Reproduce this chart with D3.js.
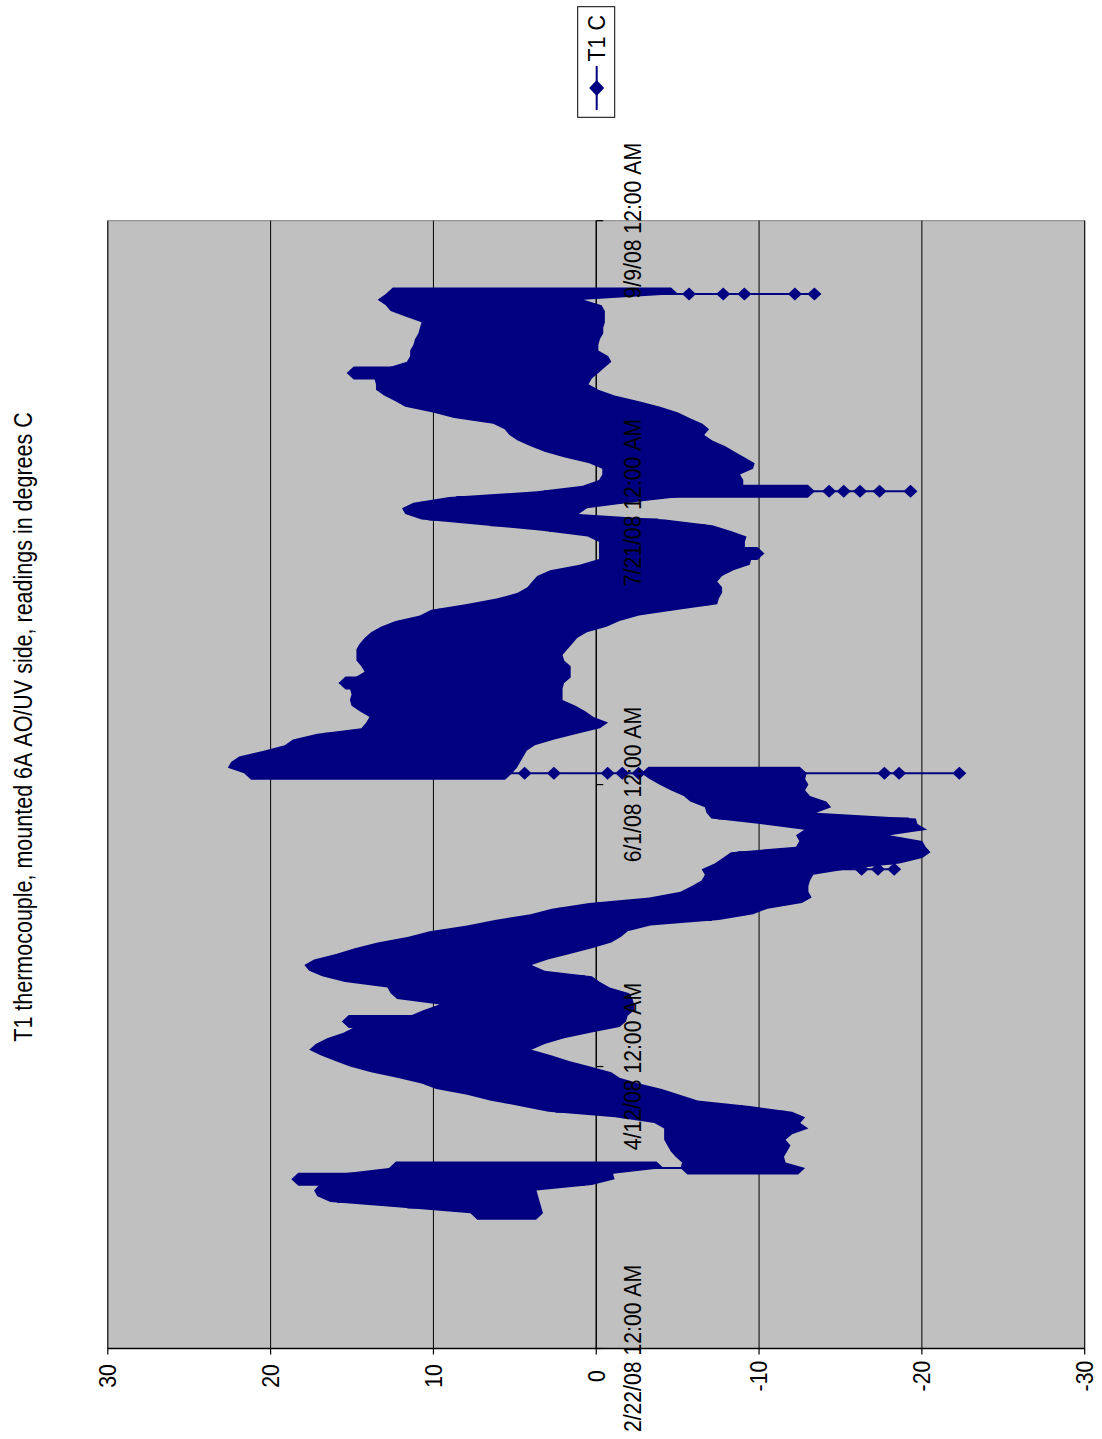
<!DOCTYPE html>
<html>
<head>
<meta charset="utf-8">
<script src="https://cdn.jsdelivr.net/npm/d3@7"></script>
<style>
  html, body { margin: 0; padding: 0; background: #fff; }
  svg { display: block; }
  text { font-family: "Liberation Sans", Arial, sans-serif; fill: #000; font-kerning: none; }
</style>
</head>
<body>
<svg id="chart" width="1102" height="1439"></svg>
<script>
// ---- data: daily high / low of the T1 thermocouple (deg C), one entry per day from firstDay ----
const firstDay = "2008-03-17";
const dailyHigh = [
  7.3, 11.6, 15.9, 16.7, 16.9, 16.6, 18.3, 15.3, 12.3, -5.7,
  -5.3, -5.0, -4.8, -4.6, -4.6, -4.6, -4.0, -1.6, 2.5, 4.3,
  6.1, 7.5, 9.4, 10.3, 11.8, 13.4, 14.7, 15.6, 16.5, 17.2,
  16.8, 16.1, 15.1, 14.4, 15.2, 11.0, 10.2, 9.2, 11.8, 12.2,
  12.4, 15.0, 16.4, 17.2, 17.5, 16.9, 15.5, 14.4, 13.0, 11.1,
  9.8, 7.5, 5.8, 3.6, 2.3, 0.0, -3.7, -5.6, -6.3, -6.9,
  -7.1, -6.9, -7.7, -8.2, -8.7, -12.7, -12.9, -12.7, -13.2, -10.5,
  -7.5, -7.2, -7.1, -6.2, -5.8, -5.0, -4.3, -3.7, 21.2, 22.2,
  22.0, 21.5, 20.0, 18.7, 18.2, 16.7, 14.0, 13.7, 13.5, 14.1,
  14.6, 14.7, 14.6, 14.7, 15.4, 14.4, 13.8, 14.0, 14.3, 14.3,
  14.3, 14.1, 13.8, 13.4, 12.8, 11.9, 10.4, 9.7, 7.6, 5.7,
  4.4, 3.8, 3.5, 3.2, 2.4, 0.6, -0.6, -0.6, -0.6, -0.6,
  0.1, 2.9, 6.5, 10.3, 11.3, 11.5, 10.8, 8.6, 3.2, 0.4,
  -0.6, -0.8, -0.8, 0.0, 1.5, 2.7, 3.6, 4.4, 4.9, 5.2,
  5.9, 8.3, 9.6, 11.3, 11.9, 12.6, 13.1, 13.1, 13.2, 14.9,
  12.3, 11.2, 11.0, 11.0, 10.8, 10.7, 10.5, 10.4, 10.3, 11.3,
  12.2, 12.5, 13.0, 12.5
];
const dailyLow = [
  3.7, 3.8, 3.9, 4.0, 4.1, 0.7, -0.7, -0.6, -3.7, -11.2,
  -11.1, -11.3, -11.5, -11.2, -11.6, -12.6, -12.1, -12.4, -11.6, -9.0,
  -5.8, -4.7, -3.6, -2.2, -1.0, -0.5, 0.8, 2.1, 3.2, 4.4,
  3.6, 2.4, 0.8, -1.0, -1.4, -1.5, -1.9, -1.9, -1.8, -1.6,
  -0.4, 0.2, 0.7, 3.6, 4.4, 3.4, 2.0, 0.7, -0.5, -1.1,
  -1.5, -2.9, -7.1, -9.2, -10.1, -12.2, -12.8, -12.6, -12.6, -12.7,
  -12.9, -15.0, -18.2, -19.6, -20.1, -19.8, -19.6, -17.6, -19.9, -19.3,
  -19.2, -13.1, -14.0, -13.7, -12.7, -12.4, -12.6, -12.4, 5.6, 5.3,
  5.1, 4.9, 4.7, 4.2, 3.0, 1.6, 0.2, -0.3, 0.6, 1.1,
  1.7, 2.5, 2.5, 2.5, 2.4, 2.0, 2.0, 2.0, 2.4, 2.5,
  2.2, 1.9, 1.6, 1.0, -0.2, -1.0, -2.2, -4.6, -7.0, -7.1,
  -7.3, -7.3, -7.0, -7.3, -8.0, -9.0, -9.1, -9.9, -8.7, -8.7,
  -8.8, -7.8, -6.7, -3.8, 1.5, 1.0, -1.6, -4.7, -13.0, -8.6,
  -8.6, -8.4, -9.2, -9.3, -8.7, -8.1, -7.5, -6.7, -6.2, -6.5,
  -6.1, -5.3, -4.6, -3.5, -2.2, -0.7, 0.3, 0.9, 0.7, 0.3,
  -0.1, -0.5, -0.3, 0.3, 0.3, 0.2, 0.0, 0.0, -0.1, -0.1,
  -0.1, 0.1, 1.2, -4.6
];

// days whose readings fall into a second, separate cluster
const splitRunDates = ["2008-03-25", "2008-06-03"];
const splitRunHigh = [-5.6, -3.2];
const splitRunLow = [-12.4, -12.5];

// isolated readings (sensor moved / removed)
const looseDates = [
  "2008-05-17", "2008-05-17", "2008-05-17",
  "2008-06-03", "2008-06-03", "2008-06-03", "2008-06-03", "2008-06-03", "2008-06-03", "2008-06-03", "2008-06-03",
  "2008-07-23", "2008-07-23", "2008-07-23", "2008-07-23", "2008-07-23",
  "2008-08-27", "2008-08-27", "2008-08-27", "2008-08-27", "2008-08-27"
];
const looseValues = [
  -16.3, -17.3, -18.3,
  4.4, 2.6, -0.7, -1.6, -2.6, -17.7, -18.6, -22.3,
  -14.3, -15.2, -16.2, -17.4, -19.3,
  -5.7, -7.8, -9.1, -12.2, -13.4
];

// axes
const valueTicks = [30, 20, 10, 0, -10, -20, -30];
const dateTicks = ["2008-02-22", "2008-04-12", "2008-06-01", "2008-07-21", "2008-09-09"];
const dateTickLabels = ["2/22/08 12:00 AM", "4/12/08 12:00 AM", "6/1/08 12:00 AM", "7/21/08 12:00 AM", "9/9/08 12:00 AM"];
const seriesName = "T1 C";
const chartTitle = "T1 thermocouple, mounted 6A AO/UV side, readings in degrees C";

// ---- layout ----
const NAVY = "#000080";
const plot = { left: 107.8, right: 1084.7, top: 220.7, bottom: 1348.5 };
const HW = 7;        // marker half width (along value axis)
const HH = 6.5;      // marker half height (along time axis)
const SPIKE = 0.7;   // a day standing out this far (deg C) from both neighbours shows its own marker row

const parse = d3.utcParse("%Y-%m-%d");
const fmt = d3.utcFormat("%Y-%m-%d");
const svg = d3.select("#chart");

// values run right-to-left, time runs bottom-to-top
const x = d3.scaleLinear().domain([30, -30]).range([plot.left, plot.right]);
const y = d3.scaleUtc()
  .domain([parse(dateTicks[0]), parse(dateTicks[dateTicks.length - 1])])
  .range([plot.bottom, plot.top]);

// per-day records
const start = parse(firstDay);
const days = dailyHigh.map((h, i) => {
  const date = d3.utcDay.offset(start, i);
  return { date, key: fmt(date), runs: [[h, dailyLow[i]]], loose: [] };
});
const byKey = new Map(days.map(d => [d.key, d]));
splitRunDates.forEach((k, i) => byKey.get(k).runs.push([splitRunHigh[i], splitRunLow[i]]));
looseDates.forEach((k, i) => byKey.get(k).loose.push(looseValues[i]));

// group consecutive days into continuous clusters; a split day closes one cluster
// with the run nearest the previous day and opens the next with the other run
const clusters = [];
let current = [];
days.forEach(d => {
  if (d.runs.length === 1) {
    current.push({ date: d.date, hi: d.runs[0][0], lo: d.runs[0][1] });
  } else {
    const prev = current[current.length - 1];
    const pm = (prev.hi + prev.lo) / 2;
    const sorted = d.runs.slice().sort((a, b) =>
      Math.abs((a[0] + a[1]) / 2 - pm) - Math.abs((b[0] + b[1]) / 2 - pm));
    current.push({ date: d.date, hi: sorted[0][0], lo: sorted[0][1] });
    clusters.push(current);
    current = [{ date: d.date, hi: sorted[1][0], lo: sorted[1][1] }];
  }
});
clusters.push(current);

// ---- plot area ----
svg.append("rect")
  .attr("x", plot.left).attr("y", plot.top)
  .attr("width", plot.right - plot.left).attr("height", plot.bottom - plot.top)
  .attr("fill", "#C0C0C0").attr("stroke", "#808080").attr("stroke-width", 1);

svg.append("g").selectAll("line").data(valueTicks).join("line")
  .attr("x1", d => x(d)).attr("x2", d => x(d))
  .attr("y1", plot.top).attr("y2", plot.bottom)
  .attr("stroke", "#000").attr("stroke-width", 1);

// category (date) axis crossing at 0, with outward ticks
const catAxis = svg.append("g");
catAxis.append("line")
  .attr("x1", x(0)).attr("x2", x(0)).attr("y1", plot.top).attr("y2", plot.bottom)
  .attr("stroke", "#000").attr("stroke-width", 1.2);
catAxis.selectAll("line.tick").data(dateTicks).join("line").attr("class", "tick")
  .attr("x1", x(0)).attr("x2", x(0) + 7)
  .attr("y1", d => y(parse(d))).attr("y2", d => y(parse(d)))
  .attr("stroke", "#000").attr("stroke-width", 1.2);

// ---- series ----
const series = svg.append("g");
const closed = d3.line().curve(d3.curveLinearClosed);
const rowLine = d3.line();

function diamond(cx, cy, hw, hh) {
  const p = d3.path();
  p.moveTo(cx - hw, cy);
  p.lineTo(cx, cy - hh);
  p.lineTo(cx + hw, cy);
  p.lineTo(cx, cy + hh);
  p.closePath();
  return p.toString();
}
// a run of touching diamond markers along one day's row
function band(date, hi, lo) {
  const x1 = x(hi), x2 = x(lo), yy = y(date);
  return closed([[x1 - HW, yy], [x1, yy - HH], [x2, yy - HH], [x2 + HW, yy], [x2, yy + HH], [x1, yy + HH]]);
}

// envelope of the densely packed markers of each cluster
function envelope(rows) {
  const a = rows[0], b = rows[rows.length - 1];
  const pts = [];
  pts.push([x(a.hi), y(a.date) + HH]);
  rows.forEach(r => pts.push([x(r.hi) - HW, y(r.date)]));
  pts.push([x(b.hi), y(b.date) - HH]);
  pts.push([x(b.lo), y(b.date) - HH]);
  rows.slice().reverse().forEach(r => pts.push([x(r.lo) + HW, y(r.date)]));
  pts.push([x(a.lo), y(a.date) + HH]);
  return closed(pts);
}
series.selectAll("path.cluster").data(clusters).join("path").attr("class", "cluster")
  .attr("d", envelope)
  .attr("fill", NAVY);

// single days that stick out beyond both neighbours
const spikes = [];
clusters.forEach(rows => {
  for (let k = 1; k < rows.length - 1; k++) {
    const p = rows[k - 1], r = rows[k], n = rows[k + 1];
    if (r.hi - Math.max(p.hi, n.hi) >= SPIKE) spikes.push({ date: r.date, a: r.hi, b: Math.min(p.hi, n.hi) });
    if (Math.min(p.lo, n.lo) - r.lo >= SPIKE) spikes.push({ date: r.date, a: Math.max(p.lo, n.lo), b: r.lo });
  }
});
series.selectAll("path.spike").data(spikes).join("path").attr("class", "spike")
  .attr("d", s => band(s.date, s.a, s.b))
  .attr("fill", NAVY);

// connecting line through each day's readings
series.selectAll("path.row").data(days).join("path").attr("class", "row")
  .attr("d", d => {
    const vals = d.runs.flat().concat(d.loose);
    const yy = y(d.date);
    return rowLine([[x(d3.max(vals)), yy], [x(d3.min(vals)), yy]]);
  })
  .attr("fill", "none").attr("stroke", NAVY).attr("stroke-width", 2);

// markers at isolated readings
const loosePts = looseDates.map((k, i) => ({ date: parse(k), v: looseValues[i] }));
series.selectAll("path.pt").data(loosePts).join("path").attr("class", "pt")
  .attr("d", m => diamond(x(m.v), y(m.date), HW, HH))
  .attr("fill", NAVY);

// ---- value axis along the bottom ----
const valAxis = svg.append("g");
valAxis.append("line")
  .attr("x1", plot.left).attr("x2", plot.right).attr("y1", plot.bottom).attr("y2", plot.bottom)
  .attr("stroke", "#000").attr("stroke-width", 1.5);
valAxis.selectAll("line.tick").data(valueTicks).join("line").attr("class", "tick")
  .attr("x1", d => x(d)).attr("x2", d => x(d))
  .attr("y1", plot.bottom).attr("y2", plot.bottom + 6)
  .attr("stroke", "#000").attr("stroke-width", 1.2);
valAxis.selectAll("text").data(valueTicks).join("text")
  .attr("transform", d => `translate(${x(d) + 8.4},1376) rotate(-90) scale(1,1.12)`)
  .attr("text-anchor", "middle")
  .style("font-size", "21.3px")
  .text(d => d);

// date labels (drawn above the series)
svg.append("g").selectAll("text").data(dateTicks).join("text")
  .attr("transform", d => `translate(640.7,${y(parse(d))}) rotate(-90) scale(1,1.15)`)
  .attr("text-anchor", "middle")
  .style("font-size", "21.2px")
  .text((d, i) => dateTickLabels[i]);

// ---- title ----
svg.append("text")
  .attr("transform", "translate(32.3,727) rotate(-90) scale(1,1.22)")
  .attr("text-anchor", "middle")
  .style("font-size", "21.5px")
  .text(chartTitle);

// ---- legend ----
const legend = svg.append("g");
legend.append("rect")
  .attr("x", 577.7).attr("y", 6.7).attr("width", 37).attr("height", 110.6)
  .attr("fill", "#fff").attr("stroke", "#000").attr("stroke-width", 1);
legend.append("line")
  .attr("x1", 596.7).attr("x2", 596.7).attr("y1", 66).attr("y2", 110)
  .attr("stroke", NAVY).attr("stroke-width", 2);
legend.append("path")
  .attr("d", diamond(596.7, 88, 7.5, 8))
  .attr("fill", NAVY);
legend.append("text")
  .attr("transform", "translate(605,38.3) rotate(-90) scale(1,1.12)")
  .attr("text-anchor", "middle")
  .style("font-size", "21.5px")
  .text(seriesName);
</script>
</body>
</html>
